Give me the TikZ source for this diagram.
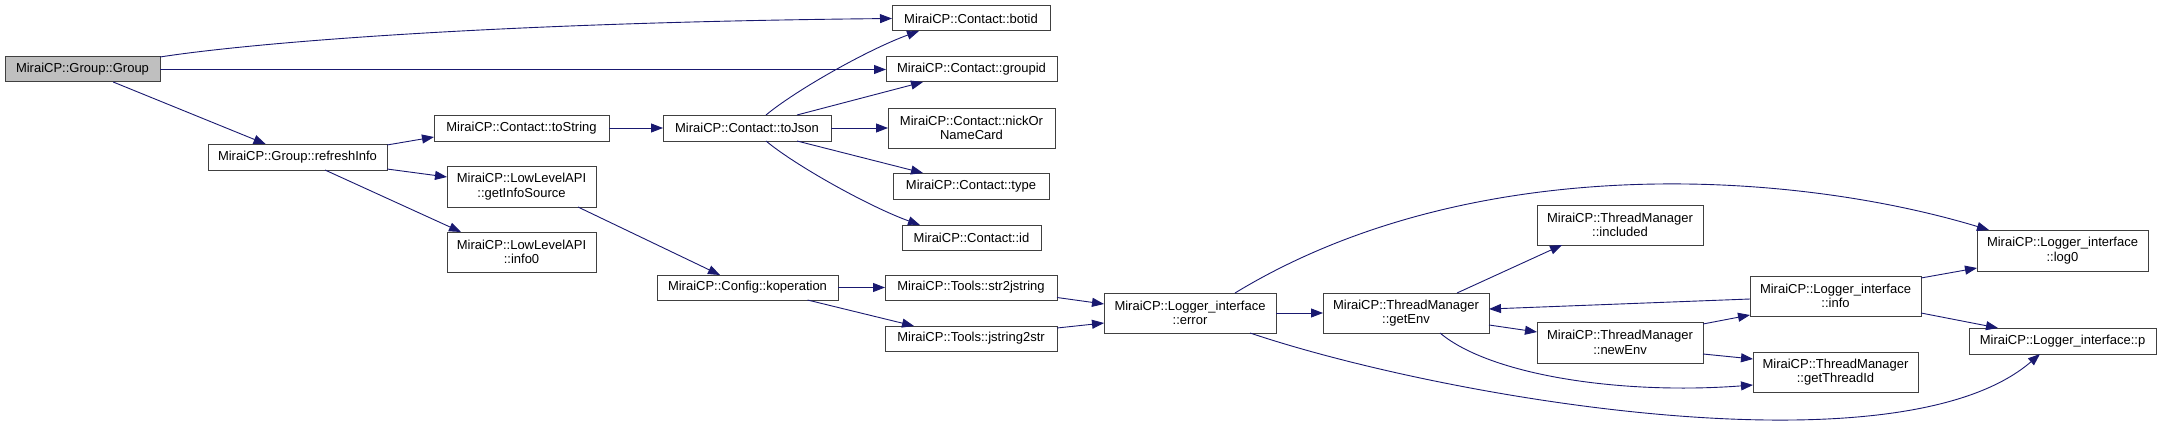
\documentclass[tikz,border=0pt]{standalone}
\usepackage{fontspec}
\setmainfont{Liberation Sans}
\usetikzlibrary{arrows.meta}
\definecolor{edgec}{HTML}{191970}
\definecolor{boxc}{HTML}{404040}
\definecolor{rootfill}{HTML}{BFBFBF}
\tikzset{
  box/.style={draw=boxc, line width=1pt, fill=white, inner sep=0pt, outer sep=0pt, align=center, font=\fontsize{13}{14.5}\selectfont},
  root/.style={fill=rootfill},
  call/.style={draw=edgec, line width=0.9pt, -{Triangle[length=12pt,width=9pt]}},
}
\newcommand{\drawbox}[7][]{\node[box,#1,minimum width={(#5-#3)*1pt},minimum height={(#6-#4)*1pt}] (#2) at ({(#3+#5)/2},{(#4+#6)/2}) {#7};}
\begin{document}
\begin{tikzpicture}[x=1pt,y=-1pt]
\fill[white] (0,0) rectangle (2161,428);
\useasboundingbox (0,0) rectangle (2161,428);

\drawbox[root]{grp}{5}{57}{160}{82}{MiraiCP::Group::Group}
\drawbox{ri}{208}{144}{387}{170}{MiraiCP::Group::refreshInfo}
\drawbox{tostr}{434}{115}{609}{141}{MiraiCP::Contact::toString}
\drawbox{gis}{447}{166}{596}{207}{MiraiCP::LowLevelAPI\\::getInfoSource}
\drawbox{info0}{447}{232}{596}{272}{MiraiCP::LowLevelAPI\\::info0}
\drawbox{tojson}{663}{115}{831}{141}{MiraiCP::Contact::toJson}
\drawbox{botid}{892}{6}{1050}{31}{MiraiCP::Contact::botid}
\drawbox{groupid}{886}{57}{1057}{82}{MiraiCP::Contact::groupid}
\drawbox{nick}{888}{108}{1055}{148}{MiraiCP::Contact::nickOr\\NameCard}
\drawbox{type}{893}{173}{1049}{199}{MiraiCP::Contact::type}
\drawbox{id}{902}{225}{1041}{250}{MiraiCP::Contact::id}
\drawbox{kop}{657}{275}{838}{300}{MiraiCP::Config::koperation}
\drawbox{s2j}{885}{275}{1057}{300}{MiraiCP::Tools::str2jstring}
\drawbox{j2s}{885}{326}{1057}{351}{MiraiCP::Tools::jstring2str}
\drawbox{err}{1104}{293}{1276}{333}{MiraiCP::Logger\_interface\\::error}
\drawbox{genv}{1323}{293}{1489}{333}{MiraiCP::ThreadManager\\::getEnv}
\drawbox{incl}{1537}{205}{1703}{245}{MiraiCP::ThreadManager\\::included}
\drawbox{nenv}{1537}{322}{1703}{363}{MiraiCP::ThreadManager\\::newEnv}
\drawbox{info}{1750}{276}{1921}{316}{MiraiCP::Logger\_interface\\::info}
\drawbox{gtid}{1753}{352}{1918}{392}{MiraiCP::ThreadManager\\::getThreadId}
\drawbox{log0}{1977}{230}{2148}{271}{MiraiCP::Logger\_interface\\::log0}
\drawbox{p}{1969}{328}{2156}{354}{MiraiCP::Logger\_interface::p}

\draw[call] (grp.north east) .. controls +(90,-14) and +(-400,4) .. (botid.west);
\draw[call] (grp) -- (groupid);
\draw[call] (grp) -- (ri);
\draw[call] ([yshift=12pt]ri.east) -- ([yshift=-9pt]tostr.west);
\draw[call] ([yshift=-12pt]ri.east) -- ([yshift=9.5pt]gis.west);
\draw[call] ([xshift=27.5pt]ri.south) -- ([xshift=14pt]info0.north west);
\draw[call] (tostr) -- (tojson);
\draw[call] ([xshift=19pt]tojson.north) .. controls +(30,-25) and +(-50,18) .. ([xshift=27pt]botid.south west);
\draw[call] ([xshift=50pt]tojson.north) -- ([xshift=37pt]groupid.south west);
\draw[call] (tojson) -- (nick);
\draw[call] ([xshift=50pt]tojson.south) -- ([xshift=30pt]type.north west);
\draw[call] ([xshift=19pt]tojson.south) .. controls +(30,25) and +(-50,-18) .. ([xshift=18pt]id.north west);
\draw[call] ([xshift=56.5pt]gis.south) -- ([xshift=-27.5pt]kop.north);
\draw[call] (kop) -- (s2j);
\draw[call] ([xshift=60pt]kop.south) -- ([xshift=29pt]j2s.north west);
\draw[call] ([yshift=-10pt]s2j.east) -- ([yshift=9pt]err.west);
\draw[call] ([yshift=10.5pt]j2s.east) -- ([yshift=-10pt]err.west);
\draw[call] (err) -- (genv);
\draw[call] ([xshift=45pt]err.north) .. controls +(235,-143) and +(-199,-60) .. ([xshift=12pt]log0.north west);
\draw[call] ([xshift=60pt]err.south) .. controls +(200,67) and +(-140,121) .. ([xshift=71pt]p.south west);
\draw[call] ([xshift=51pt]genv.north) -- ([xshift=25pt]incl.south west);
\draw[call] ([yshift=-12pt]genv.east) -- ([yshift=10.5pt]nenv.west);
\draw[call] ([xshift=34pt]genv.south) .. controls +(50,42) and +(-133,10) .. ([yshift=-13pt]gtid.west);
\draw[call] ([yshift=18.5pt]nenv.east) -- ([yshift=-19pt]info.west);
\draw[call] ([yshift=-11.5pt]nenv.east) -- ([yshift=13pt]gtid.west);
\draw[call] ([yshift=-3pt]info.west) -- ([yshift=4pt]genv.east);
\draw[call] ([yshift=18pt]info.east) -- ([yshift=-17.5pt]log0.west);
\draw[call] ([yshift=-17pt]info.east) -- ([xshift=29pt]p.north west);
\end{tikzpicture}
\end{document}
